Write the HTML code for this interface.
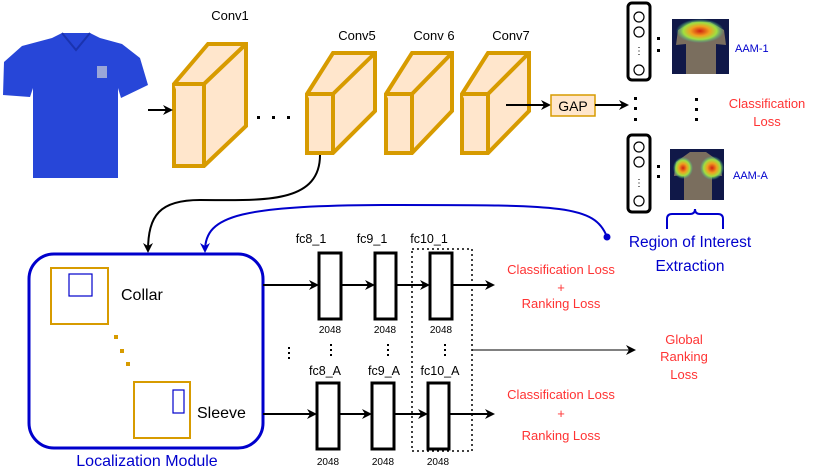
<!DOCTYPE html>
<html><head><meta charset="utf-8"><style>
body{margin:0;background:#fff}
svg{display:block}
text{font-family:"Liberation Sans",sans-serif}
</style></head><body>
<svg width="818" height="475" viewBox="0 0 818 475" xmlns="http://www.w3.org/2000/svg">
<defs>
<marker id="ab" markerWidth="10" markerHeight="10" refX="8" refY="5" orient="auto" markerUnits="userSpaceOnUse"><path d="M0,0 L10,5 L0,10 L3,5 z" fill="#000"/></marker>
<marker id="abl" markerWidth="10" markerHeight="10" refX="8" refY="5" orient="auto" markerUnits="userSpaceOnUse"><path d="M0,0 L10,5 L0,10 L3,5 z" fill="#0000cc"/></marker>
<radialGradient id="hm1"><stop offset="0" stop-color="#d02010"/><stop offset="0.4" stop-color="#f0a020"/><stop offset="0.7" stop-color="#a0e040"/><stop offset="1" stop-color="#40c0a0" stop-opacity="0"/></radialGradient>
</defs>
<!-- shirt -->
<path d="M52,38 L62,33 L90,33 L100,38 L122,44 L140,58 L148,85 L121,98 L118,88 L118,178 L33,178 L33,88 L30,97 L3,95 L4,62 L22,46 Z" fill="#2746d8"/>
<path d="M62,33 L76,50 L90,33" fill="none" stroke="#1a33b0" stroke-width="2"/>
<rect x="97" y="66" width="10" height="12" fill="#9aa6d8"/>
<!-- cubes -->
<g fill="#ffe6cc" stroke="#d79b00" stroke-width="4" stroke-linejoin="miter">
<path d="M174,84 L208,44 L246,44 L246,126 L204,166 L174,166 Z"/><path d="M174,84 L204,84 L204,166 M204,84 L246,44"/>
<path d="M307,94 L333,53 L375,53 L375,111 L333,153 L307,153 Z"/><path d="M307,94 L333,94 L333,153 M333,94 L375,53"/>
<path d="M386,94 L412,53 L452,53 L452,111 L412,153 L386,153 Z"/><path d="M386,94 L412,94 L412,153 M412,94 L452,53"/>
<path d="M462,94 L488,53 L529,53 L529,111 L488,153 L462,153 Z"/><path d="M462,94 L488,94 L488,153 M488,94 L529,53"/>
</g>
<g font-size="13" text-anchor="middle" fill="#000">
<text x="230" y="20">Conv1</text><text x="357" y="40">Conv5</text><text x="434" y="40">Conv 6</text><text x="511" y="40">Conv7</text>
</g>
<g fill="#000"><rect x="257" y="116" width="3" height="3"/><rect x="272" y="116" width="3" height="3"/><rect x="287" y="116" width="3" height="3"/></g>
<line x1="148" y1="110" x2="171" y2="110" stroke="#000" stroke-width="2" marker-end="url(#ab)"/>
<line x1="506" y1="105" x2="549" y2="105" stroke="#000" stroke-width="2" marker-end="url(#ab)"/>
<rect x="551" y="95" width="44" height="21" fill="#ffe6cc" stroke="#d79b00" stroke-width="1.5"/>
<text x="573" y="111" font-size="14" text-anchor="middle">GAP</text>
<line x1="595" y1="105" x2="627" y2="105" stroke="#000" stroke-width="2" marker-end="url(#ab)"/>
<g fill="#000"><rect x="634" y="97" width="3" height="3"/><rect x="634" y="107" width="3" height="3"/><rect x="634" y="118" width="3" height="3"/>
<rect x="695" y="98" width="3" height="3"/><rect x="695" y="108" width="3" height="3"/><rect x="695" y="118" width="3" height="3"/>
<rect x="657" y="37" width="3" height="3"/><rect x="657" y="49" width="3" height="3"/><rect x="657" y="165" width="3" height="3"/><rect x="657" y="175" width="3" height="3"/></g>
<!-- node columns -->
<g fill="none" stroke="#000">
<rect x="628" y="3" width="22" height="77" rx="4" stroke-width="3"/>
<circle cx="639" cy="17" r="5" stroke-width="1.2"/><circle cx="639" cy="32" r="5" stroke-width="1.2"/><circle cx="639" cy="70" r="5" stroke-width="1.2"/>
<rect x="628" y="135" width="22" height="77" rx="4" stroke-width="3"/>
<circle cx="639" cy="147" r="5" stroke-width="1.2"/><circle cx="639" cy="162" r="5" stroke-width="1.2"/><circle cx="639" cy="201" r="5" stroke-width="1.2"/>
</g>
<text x="639" y="54" font-size="10" text-anchor="middle">⋮</text>
<text x="639" y="186" font-size="10" text-anchor="middle">⋮</text>
<!-- heatmaps -->
<rect x="672" y="19" width="57" height="55" fill="#101848"/>
<path d="M678,30 L692,22 L710,22 L724,30 L726,45 L716,44 L716,74 L686,74 L686,44 L676,45 Z" fill="#7a6e5e"/>
<ellipse cx="700" cy="31" rx="24" ry="12" fill="url(#hm1)"/>
<rect x="670" y="149" width="54" height="51" fill="#101848"/>
<path d="M676,162 L690,152 L706,152 L720,162 L722,176 L712,175 L712,200 L684,200 L684,175 L674,176 Z" fill="#7a6e5e"/>
<ellipse cx="683" cy="168" rx="10" ry="11" fill="url(#hm1)"/>
<ellipse cx="712" cy="168" rx="12" ry="12" fill="url(#hm1)"/>
<text x="735" y="52" font-size="11" fill="#0000cc">AAM-1</text>
<text x="733" y="179" font-size="11" fill="#0000cc">AAM-A</text>
<text x="767" y="108" font-size="13" fill="#ff3333" text-anchor="middle">Classification</text>
<text x="767" y="126" font-size="13" fill="#ff3333" text-anchor="middle">Loss</text>
<path d="M667,229 L667,219 Q667,214 672,214 L690,214 Q695,214 695,209 Q695,214 700,214 L718,214 Q723,214 723,219 L723,229" fill="none" stroke="#0000cc" stroke-width="2"/>
<text x="690" y="247" font-size="15.5" fill="#0000cc" text-anchor="middle">Region of Interest</text>
<text x="690" y="271" font-size="15.5" fill="#0000cc" text-anchor="middle">Extraction</text>
<!-- curves -->
<path d="M320,155 C320,205 260,200 200,200 C160,200 148,215 148,251" fill="none" stroke="#000" stroke-width="2" marker-end="url(#ab)"/>
<circle cx="607" cy="237" r="3.5" fill="#0000cc"/>
<path d="M607,237 C595,205 560,205 400,205 C240,205 205,215 205,251" fill="none" stroke="#0000cc" stroke-width="2" marker-end="url(#abl)"/>
<!-- localization module -->
<rect x="29" y="254" width="234" height="194" rx="25" fill="none" stroke="#0000cc" stroke-width="3"/>
<rect x="51" y="268" width="57" height="56" fill="none" stroke="#d79b00" stroke-width="2"/>
<rect x="69" y="274" width="23" height="22" fill="none" stroke="#0000cc" stroke-width="1.2"/>
<rect x="134" y="382" width="56" height="56" fill="none" stroke="#d79b00" stroke-width="2"/>
<rect x="173" y="390" width="11" height="23" fill="none" stroke="#0000cc" stroke-width="1.2"/>
<g fill="#d79b00"><rect x="114" y="335" width="4" height="4"/><rect x="120" y="349" width="4" height="4"/><rect x="126" y="362" width="4" height="4"/></g>
<text x="121" y="300" font-size="16">Collar</text>
<text x="197" y="418" font-size="16">Sleeve</text>
<text x="147" y="466" font-size="16" fill="#0000cc" text-anchor="middle">Localization Module</text>
<!-- fc -->
<g fill="none" stroke="#000" stroke-width="3">
<rect x="319" y="253" width="22" height="66"/><rect x="375" y="253" width="21" height="66"/><rect x="430" y="253" width="22" height="66"/>
<rect x="317" y="383" width="22" height="66"/><rect x="372" y="383" width="22" height="66"/><rect x="428" y="383" width="21" height="66"/>
</g>
<rect x="412" y="249" width="60" height="202" fill="none" stroke="#000" stroke-width="1.5" stroke-dasharray="2,3"/>
<g stroke="#000" stroke-width="2" marker-end="url(#ab)">
<line x1="263" y1="285" x2="317" y2="285"/><line x1="342" y1="285" x2="373" y2="285"/><line x1="397" y1="285" x2="428" y2="285"/><line x1="453" y1="285" x2="493" y2="285"/>
<line x1="263" y1="414" x2="315" y2="414"/><line x1="340" y1="414" x2="370" y2="414"/><line x1="395" y1="414" x2="426" y2="414"/><line x1="450" y1="414" x2="493" y2="414"/>
</g>
<line x1="472" y1="350" x2="634" y2="350" stroke="#000" stroke-width="1" marker-end="url(#ab)"/>
<g font-size="12.5" text-anchor="middle">
<text x="311" y="243">fc8_1</text><text x="372" y="243">fc9_1</text><text x="429" y="243">fc10_1</text>
<text x="325" y="375">fc8_A</text><text x="384" y="375">fc9_A</text><text x="440" y="375">fc10_A</text>
</g>
<g font-size="10" text-anchor="middle">
<text x="330" y="333">2048</text><text x="385" y="333">2048</text><text x="441" y="333">2048</text>
<text x="328" y="465">2048</text><text x="383" y="465">2048</text><text x="438" y="465">2048</text>
</g>
<g fill="#000"><rect x="288" y="347" width="2" height="2"/><rect x="288" y="352" width="2" height="2"/><rect x="288" y="357" width="2" height="2"/>
<rect x="330" y="344" width="2" height="2"/><rect x="330" y="349" width="2" height="2"/><rect x="330" y="354" width="2" height="2"/>
<rect x="387" y="344" width="2" height="2"/><rect x="387" y="349" width="2" height="2"/><rect x="387" y="354" width="2" height="2"/>
<rect x="444" y="344" width="2" height="2"/><rect x="444" y="349" width="2" height="2"/><rect x="444" y="354" width="2" height="2"/></g>
<g font-size="13" fill="#ff3333" text-anchor="middle">
<text x="561" y="274">Classification Loss</text><text x="561" y="292">+</text><text x="561" y="308">Ranking Loss</text>
<text x="561" y="399">Classification Loss</text><text x="561" y="418">+</text><text x="561" y="440">Ranking Loss</text>
<text x="684" y="344">Global</text><text x="684" y="361">Ranking</text><text x="684" y="379">Loss</text>
</g>
</svg>
</body></html>
